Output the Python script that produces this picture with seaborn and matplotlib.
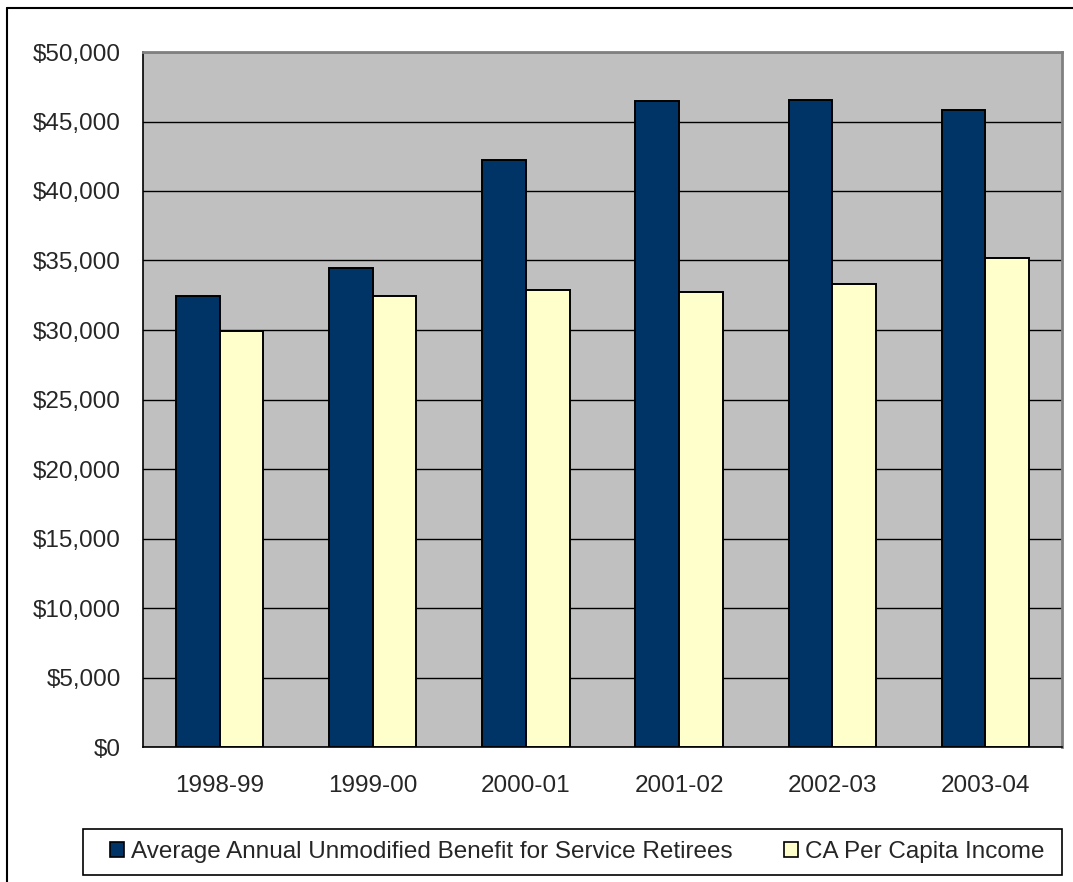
import matplotlib
matplotlib.use("Agg")
import matplotlib.pyplot as plt
from matplotlib.lines import Line2D
from matplotlib.patches import Patch, Rectangle
from matplotlib.ticker import FuncFormatter, FixedLocator
import seaborn as sns
import pandas as pd

# Fiscal years and the two series shown for each
years = ["1998-99", "1999-00", "2000-01", "2001-02", "2002-03", "2003-04"]
avg_benefit = [32450, 34450, 42250, 46450, 46550, 45850]
per_capita_income = [29900, 32450, 32900, 32750, 33300, 35200]
series_names = ["Average Annual Unmodified Benefit for Service Retirees",
                "CA Per Capita Income"]
y_ticks = list(range(0, 50001, 5000))

navy = "#003366"
cream = "#FFFFCC"

df = pd.DataFrame({
    "year": years * 2,
    "value": avg_benefit + per_capita_income,
    "series": [series_names[0]] * len(years) + [series_names[1]] * len(years),
})

sns.set_style("white")
plt.rcParams["font.family"] = ["Liberation Sans", "DejaVu Sans"]
FS = 17.5

W, H = 1073, 882
fig = plt.figure(figsize=(W / 100, H / 100), dpi=100)
ax = fig.add_axes([143 / W, 1 - 747 / H, (1062 - 143) / W, (747 - 52) / H])
ax.set_facecolor("#C0C0C0")

sns.barplot(data=df, x="year", y="value", hue="series", order=years,
            hue_order=series_names, palette=[navy, cream], saturation=1,
            width=0.57, gap=0, edgecolor="black", linewidth=1.4,
            errorbar=None, legend=False, ax=ax, zorder=3)

ax.set_xlim(-0.5, len(years) - 0.5)
ax.set_ylim(0, 50000)
ax.set_yticks(y_ticks)
ax.yaxis.set_major_formatter(FuncFormatter(lambda v, p: f"${v:,.0f}"))
ax.grid(axis="y", color="black", linewidth=1.0, zorder=0)
ax.set_axisbelow(True)

# Category separators as outward minor ticks; labels sit between them
ax.xaxis.set_minor_locator(FixedLocator([i - 0.5 for i in range(len(years) + 1)]))
ax.tick_params(axis="x", which="major", length=0, pad=20, labelsize=FS)
ax.tick_params(axis="x", which="minor", length=8, width=1, color="black", direction="out")
ax.tick_params(axis="y", which="major", length=8, width=1, color="black",
               direction="out", pad=8, labelsize=FS)
ax.set_xlabel("")
ax.set_ylabel("")

for side in ("left", "bottom"):
    ax.spines[side].set_color("black")
    ax.spines[side].set_linewidth(1.2)
for side in ("top", "right"):
    ax.spines[side].set_color("#808080")
    ax.spines[side].set_linewidth(2)

# Legend entries in one row, inside a separately drawn box
handles = [Patch(facecolor=navy, edgecolor="black", linewidth=1.2),
           Patch(facecolor=cream, edgecolor="black", linewidth=1.2)]
fig.legend(handles, series_names, loc="center left",
           bbox_to_anchor=(110 / W, 1 - 852 / H),
           ncol=2, fontsize=FS, frameon=False,
           handlelength=0.58, handleheight=0.58, handletextpad=0.3,
           columnspacing=2.1, borderpad=0, borderaxespad=0)
fig.add_artist(Rectangle((83 / W, 1 - 875 / H), (1062 - 83) / W, (875 - 829) / H,
                         transform=fig.transFigure, facecolor="none",
                         edgecolor="black", linewidth=1.2))

# Outer chart frame
fig.add_artist(Line2D([7 / W, 1], [1 - 8 / H, 1 - 8 / H], color="black", linewidth=1.5))
fig.add_artist(Line2D([7 / W, 7 / W], [0, 1 - 8 / H], color="black", linewidth=1.5))

fig.savefig("out.png", dpi=100, facecolor="white")
